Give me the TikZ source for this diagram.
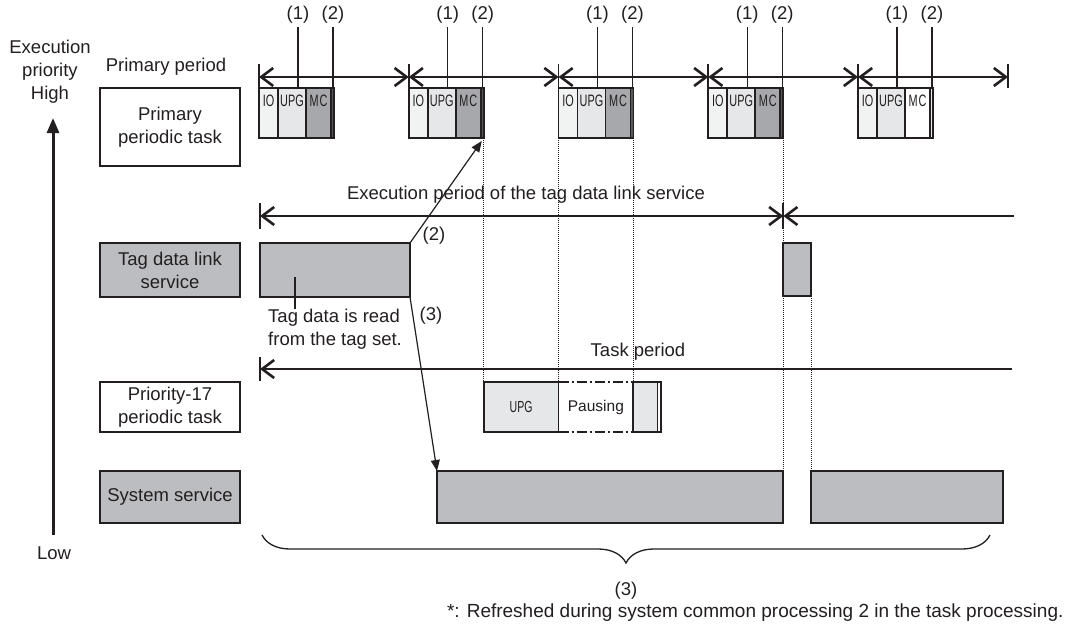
\documentclass[tikz,border=0pt]{standalone}
\usepackage{fontspec}
\setmainfont{Liberation Sans}
\usepackage{graphicx}
\usetikzlibrary{positioning, calc, arrows.meta, decorations.pathreplacing}
\definecolor{inkc}{HTML}{231F20}
\definecolor{tgray}{HTML}{BCBDC0}
\definecolor{mcgray}{HTML}{A7A8AB}
\definecolor{upgc}{HTML}{E6E7E8}
\definecolor{ioc}{HTML}{F1F2F2}
\definecolor{stripc}{HTML}{58595B}
\newcommand{\narrowtxt}[1]{\scalebox{0.66}[1]{#1}}

\begin{document}
\begin{tikzpicture}[x=1pt, y=-1pt,
  every node/.style={font=\fontsize{18.5}{23}\selectfont, text=inkc},
  lbox/.style={draw=inkc, line width=1.8pt, fill=#1, minimum width=140pt, inner sep=0pt,
    outer sep=0pt, align=center, anchor=north west},
  lbox/.default=white,
  blk/.style={draw=inkc, line width=1.8pt, fill=#1, inner sep=0pt, outer sep=0pt, anchor=north west},
  grp/.style={blk=#1, minimum height=50pt},
  btxt/.style={anchor=north, inner sep=0pt, yshift=-7pt, font=\fontsize{16.5}{18}\selectfont},
  dimarr/.style={line width=2.6pt, draw=inkc, {Straight Barb[length=12pt,width=18pt]}-{Straight Barb[length=12pt,width=18pt]}},
  dimleft/.style={line width=2.6pt, draw=inkc, {Straight Barb[length=12pt,width=18pt]}-},
  dimtick/.style={line width=1.8pt, draw=inkc},
  lead/.style={line width=1.2pt, draw=inkc},
  ptr/.style={line width=1.2pt, draw=inkc, -{Triangle[length=11pt,width=9pt]}},
  vdots/.style={densely dotted, line width=1pt, draw=inkc},
  prio/.style={line width=3pt, draw=inkc, -{Triangle[length=15pt,width=12pt]}},
  brc/.style={line width=1.3pt, draw=inkc, decorate, decoration={brace, mirror, amplitude=28pt}},
]
  \fill[white] (0,0) rectangle (1073,626);
  \useasboundingbox (0,0) rectangle (1073,626);

  % priority axis
  \node[align=center] (hilbl) at (50,72) {Execution\\priority\\High};
  \node (lolbl) at (54,553) {Low};
  \coordinate (pbot) at (53,535);
  \coordinate (ptop) at (53,118);
  \draw[prio] (pbot) -- (ptop);

  % row labels
  \node (pplbl) at (166,67) {Primary period};
  \node[lbox, minimum height=78pt] (lprim) at (100,88) {Primary\\periodic task};
  \node[lbox=tgray, minimum height=54pt] (ltag) at (100,243) {Tag data link\\service};
  \node[lbox, minimum height=50pt] (lp17) at (100,382) {Priority-17\\periodic task};
  \node[lbox=tgray, minimum height=52pt] (lsys) at (100,471) {System service};

  % primary periodic task, five periods
  \foreach \i/\mcc/\stc in {0/mcgray/stripc, 1/mcgray/stripc, 2/mcgray/stripc, 3/mcgray/stripc, 4/white/upgc} {
    \pgfmathsetmacro{\s}{259+149.75*\i}
    \coordinate (pt\i) at (\s,77);
    \node[grp=ioc, minimum width=19pt, label={[btxt]north:\narrowtxt{IO}}] (io\i) at (\s,88) {};
    \node[grp=upgc, minimum width=28pt, label={[btxt]north:\narrowtxt{UPG}}, right=0pt of io\i] (upg\i) {};
    \node[grp=\mcc, minimum width=25pt, label={[btxt]north:\narrowtxt{M\kern1.5pt C}}, right=0pt of upg\i] (mc\i) {};
    \node[grp=\stc, minimum width=3pt, right=0pt of mc\i] (st\i) {};
    \node (one\i) at (\s+39,15) {(1)};
    \node (two\i) at (\s+74,15) {(2)};
    \draw[lead] (one\i.south) -- (one\i.south |- upg\i.north);
    \draw[lead] (two\i.south) -- (two\i.south |- st\i.north);
  }
  \coordinate (pt5) at (1008,77);
  \foreach \i [evaluate=\i as \j using int(\i+1)] in {0,...,4}
    \draw[dimarr] (pt\i) -- (pt\j);
  \foreach \i in {0,...,5}
    \draw[dimtick] (pt\i) ++(0,-13) -- ++(0,24);

  % tag data link service
  \node (exlbl) at (526,195) {Execution period of the tag data link service};
  \coordinate (ex0) at (260,216);
  \coordinate (ex1) at (783.25,216);
  \coordinate (ex2) at (1014,216);
  \draw[dimarr] (ex0) -- (ex1);
  \draw[dimleft] (ex1) -- (ex2);
  \draw[dimtick] (ex0) ++(0,-13) -- ++(0,26);
  \draw[dimtick] (ex1) ++(0,-13) -- ++(0,26);

  \node[blk=tgray, minimum width=150pt, minimum height=54pt] (tag1) at (260,243) {};
  \node[blk=tgray, minimum width=28pt, minimum height=53pt] (tag2) at (st3.south east |- 0,243) {};
  \node[anchor=north west, inner sep=0pt, align=left] (tagnote) at (268,309) {Tag data is read\\from the tag set.};
  \coordinate (rdpt) at (295,277);
  \draw[lead] (rdpt) -- (rdpt |- tagnote.north);
  \node (lb2) at (434,236) {(2)};
  \node (lb3) at (431,316) {(3)};

  % priority-17 periodic task
  \node (tplbl) at (638,352) {Task period};
  \coordinate (tp0) at (260,369);
  \coordinate (tp1) at (1012,369);
  \draw[dimleft] (tp0) -- (tp1);
  \draw[dimtick] (tp0) ++(0,-12) -- ++(0,24);

  \node[blk=upgc, minimum width=74.75pt, minimum height=50pt, font=\fontsize{16}{18}\selectfont]
    (p17upg) at (st1.south east |- 0,382) {\narrowtxt{UPG}};
  \node[blk=white, draw=none, minimum width=74.75pt, minimum height=50pt, right=0pt of p17upg,
    font=\fontsize{15.5}{18}\selectfont] (p17pause) {Pausing};
  \node[blk=upgc, minimum width=24.25pt, minimum height=50pt, right=0pt of p17pause] (p17tail) {};
  \node[blk=white, minimum width=3.5pt, minimum height=50pt, right=0pt of p17tail] (p17end) {};
  \draw[line width=1.8pt, draw=inkc, dash pattern=on 10pt off 3pt on 2pt off 3pt]
    (p17pause.north west) -- (p17pause.north east)
    (p17pause.south west) -- (p17pause.south east);

  % system service
  \node[blk=tgray, minimum width=346.25pt, minimum height=52pt] (sys1) at (437,471) {};
  \node[blk=tgray, minimum width=191.75pt, minimum height=52pt] (sys2) at (tag2.south east |- 0,471) {};

  % timing guides
  \draw[vdots] (st1.south east) -- (st1.south east |- p17upg.north);
  \draw[vdots] (io2.south west) -- (io2.south west |- p17pause.north);
  \draw[vdots] (st2.south east) -- (st2.south east |- p17tail.north);
  \draw[vdots] (st3.south east) -- (st3.south east |- tag2.north);
  \draw[vdots] (tag2.south west) -- (tag2.south west |- sys1.north);
  \draw[vdots] (tag2.south east) -- (tag2.south east |- sys2.north);

  % refresh pointers
  \draw[ptr] (tag1.north east) -- ([xshift=-2pt, yshift=-3pt]st1.south east);
  \draw[ptr] (tag1.south east) -- (sys1.north west);

  % brace and note
  \coordinate (bl) at (262,535);
  \coordinate (br) at (990,535);
  \draw[brc] (bl) -- (br);
  \node (lb3b) at (626,591) {(3)};
  \node[anchor=east, font=\fontsize{19}{23}\selectfont] (fnote) at (1067,613) {*: Refreshed during system common processing 2 in the task processing.};
\end{tikzpicture}
\end{document}
